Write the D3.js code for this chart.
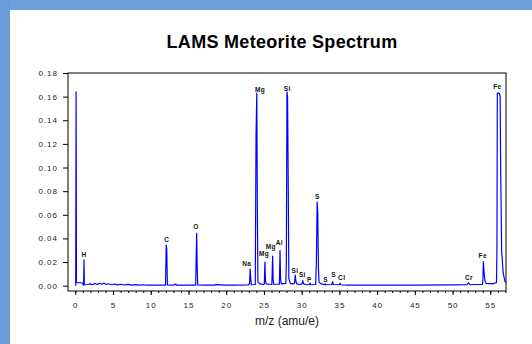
<!DOCTYPE html>
<html>
<head>
<meta charset="utf-8">
<script src="https://cdn.jsdelivr.net/npm/d3@7"></script>
<style>
  html, body { margin: 0; padding: 0; background: #fff; }
  svg { display: block; }
  .axis text { font-family: "Liberation Sans", Arial, sans-serif; font-size: 8px; fill: #222; letter-spacing: 1px; }
  .axis path, .axis line { stroke: #000; }
  .peak-label { font-family: "Liberation Sans", Arial, sans-serif; font-size: 6.5px; font-weight: bold; fill: #111; letter-spacing: 0.4px; }
</style>
</head>
<body>
<div id="chart"></div>
<script>
// spectrum samples (m/z, relative intensity)
const spectrumMz = [
  0.05, 0.1, 0.15, 0.6, 1.0, 1.05, 1.1, 1.15, 1.2, 1.6, 2.0, 2.3, 2.6, 2.9, 3.2, 3.5, 3.8, 4.1, 4.4, 4.8,
  5.2, 5.6, 6.0, 6.5, 7.0, 7.5, 8.0, 8.5, 9.0, 9.5, 10.0, 10.5, 11.0, 11.95, 12.05, 12.12, 12.2, 13.0, 13.3, 13.4,
  15.95, 16.08, 16.15, 16.22, 17.0, 18.0, 18.5, 18.6, 20.0, 21.0, 22.9, 23.1, 23.17, 23.25, 23.33,
  23.85, 23.95, 24.05, 24.13, 24.2, 24.5, 24.95, 25.05, 25.13, 25.2, 25.3, 25.95, 26.05, 26.15, 26.22, 26.3,
  26.95, 27.05, 27.13, 27.2, 27.3, 27.9, 27.97, 28.05, 28.13, 28.22, 28.3, 28.5, 28.8,
  29.05, 29.15, 29.22, 29.35, 29.7, 30.05, 30.15, 30.25, 30.6, 31.0, 31.1, 31.2,
  31.85, 31.95, 32.05, 32.13, 32.22, 32.3, 32.6, 33.0, 33.1, 33.2, 34.0, 34.1, 34.2,
  35.0, 35.1, 35.2, 36.0, 40.0, 45.0, 50.0, 51.9, 52.1, 52.3, 53.6,
  53.95, 54.02, 54.08, 54.18, 54.3, 54.45, 55.0, 55.4, 55.75,
  55.82, 55.88, 55.93, 56.2, 56.3, 56.38, 56.5, 56.7, 56.95, 57.2
];
const spectrumIntensity = [
  0.0, 0.164, 0.0025, 0.0025, 0.0022, 0.0005, 0.0005, 0.0218, 0.0008, 0.001, 0.0015, 0.0008, 0.0018, 0.001, 0.002, 0.0012, 0.0022, 0.001, 0.0016, 0.0008,
  0.0014, 0.0007, 0.0012, 0.0006, 0.0011, 0.0005, 0.0009, 0.0005, 0.0008, 0.0004, 0.0006, 0.0004, 0.0004, 0.0004, 0.0344, 0.031, 0.0006, 0.0004, 0.0015, 0.0004,
  0.0004, 0.0443, 0.016, 0.0006, 0.0005, 0.0004, 0.0004, 0.0009, 0.0004, 0.0004, 0.0006, 0.002, 0.014, 0.006, 0.0008,
  0.001, 0.126, 0.163, 0.063, 0.003, 0.0015, 0.001, 0.0012, 0.020, 0.004, 0.0015, 0.001, 0.001, 0.025, 0.005, 0.0012,
  0.0012, 0.0012, 0.0296, 0.006, 0.0015, 0.002, 0.02, 0.164, 0.16, 0.083, 0.006, 0.002, 0.0015,
  0.002, 0.009, 0.004, 0.0015, 0.001, 0.0015, 0.0042, 0.0015, 0.0008, 0.001, 0.0022, 0.0008,
  0.001, 0.02, 0.071, 0.062, 0.015, 0.003, 0.0015, 0.0008, 0.0015, 0.0008, 0.001, 0.0034, 0.001,
  0.0008, 0.002, 0.0008, 0.0005, 0.0005, 0.0005, 0.0006, 0.0008, 0.0025, 0.0008, 0.001,
  0.001, 0.005, 0.0203, 0.0105, 0.004, 0.002, 0.0018, 0.0018, 0.0025,
  0.0025, 0.03, 0.163, 0.163, 0.16, 0.0965, 0.03, 0.011, 0.0034, 0.003
];

// element labels: text, m/z where the label sits, intensity level of the label
const labelText  = ["H", "C", "O", "Na", "Mg", "Mg", "Mg", "Al", "Si", "Si", "Si", "P", "S", "S", "S", "Cl", "Cr", "Fe", "Fe"];
const labelMz    = [1.15, 12.11, 16.0, 22.72, 24.48, 25.01, 25.9, 27.04, 28.1, 29.12, 30.09, 31.01, 32.07, 33.19, 34.25, 35.31, 52.18, 54.0, 55.93];
const labelLevel = [0.026, 0.0387, 0.0497, 0.0184, 0.1662, 0.0268, 0.033, 0.0361, 0.167, 0.0127, 0.0091, 0.0048, 0.0753, 0.0054, 0.0091, 0.0068, 0.0068, 0.0251, 0.168];

const yTicks = [0, 0.02, 0.04, 0.06, 0.08, 0.10, 0.12, 0.14, 0.16, 0.18];
const xTicks = [0, 5, 10, 15, 20, 25, 30, 35, 40, 45, 50, 55];

const W = 532, H = 344;
const margin = {top: 73, right: 26, bottom: 53, left: 68};
const width = W - margin.left - margin.right;
const height = H - margin.top - margin.bottom;

const svg = d3.select("#chart").append("svg")
  .attr("width", W)
  .attr("height", H);

// slide frame (blue band top and left)
svg.append("rect").attr("x", 0).attr("y", 0).attr("width", W).attr("height", 10).attr("fill", "#6d9fdb");
svg.append("rect").attr("x", 0).attr("y", 0).attr("width", 10).attr("height", H).attr("fill", "#6a9cd9");

svg.append("text")
  .attr("x", 282)
  .attr("y", 48)
  .attr("text-anchor", "middle")
  .style("font-family", "'Liberation Sans', Arial, sans-serif")
  .style("font-size", "18px")
  .style("font-weight", "bold")
  .style("letter-spacing", "0.3px")
  .text("LAMS Meteorite Spectrum");

const g = svg.append("g")
  .attr("transform", "translate(" + margin.left + "," + margin.top + ")");

const x = d3.scaleLinear().domain([-0.97, 57.08]).range([0, width]);
const y = d3.scaleLinear().domain([-0.0045, 0.18]).range([height, 0]);

// minor x ticks every 1
g.append("g")
  .attr("class", "axis x-minor")
  .attr("transform", "translate(0," + height + ")")
  .call(d3.axisBottom(x).tickValues(d3.range(0, 58, 1)).tickSize(2).tickFormat(""))
  .call(a => a.select(".domain").remove());

g.append("g")
  .attr("class", "axis x-axis")
  .attr("transform", "translate(0," + height + ")")
  .call(d3.axisBottom(x).tickValues(xTicks).tickSize(4).tickPadding(7).tickFormat(d3.format("d")))
  .call(a => a.select(".domain").remove());

g.append("g")
  .attr("class", "axis y-axis")
  .call(d3.axisLeft(y).tickValues(yTicks).tickSize(5).tickPadding(5).tickFormat(d3.format(".2f")))
  .call(a => a.select(".domain").remove());

// plot frame
g.append("rect")
  .attr("width", width)
  .attr("height", height)
  .attr("fill", "none")
  .attr("stroke", "#000")
  .attr("stroke-width", 1);

g.append("clipPath").attr("id", "clip")
  .append("rect").attr("width", width).attr("height", height);

const line = d3.line()
  .x(i => x(spectrumMz[i]))
  .y(i => y(spectrumIntensity[i]));

g.append("path")
  .attr("clip-path", "url(#clip)")
  .attr("d", line(d3.range(spectrumMz.length)))
  .attr("fill", "none")
  .attr("stroke", "#0000ff")
  .attr("stroke-width", 1.2)
  .attr("stroke-linejoin", "round");

g.selectAll(".peak-label")
  .data(labelText)
  .enter().append("text")
  .attr("class", "peak-label")
  .attr("x", (d, i) => x(labelMz[i]))
  .attr("y", (d, i) => y(labelLevel[i]))
  .attr("dy", "0.35em")
  .attr("text-anchor", "middle")
  .text(d => d);

svg.append("text")
  .attr("x", margin.left + width / 2)
  .attr("y", 325)
  .attr("text-anchor", "middle")
  .style("font-family", "'Liberation Sans', Arial, sans-serif")
  .style("font-size", "12px")
  .style("fill", "#222")
  .text("m/z (amu/e)");
</script>
</body>
</html>
